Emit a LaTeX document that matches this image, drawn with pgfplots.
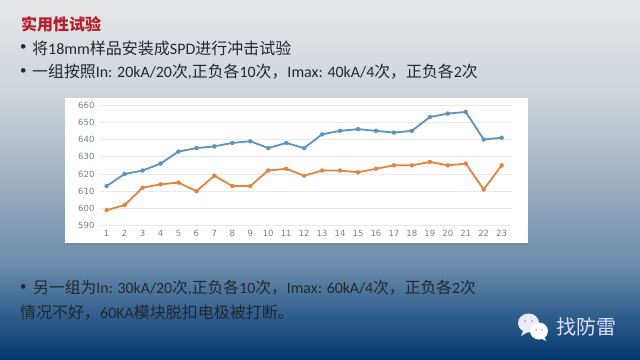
\documentclass[border=0pt]{standalone}
\usepackage{fontspec}
\setmainfont{Carlito}
\newfontfamily\cjk{Noto Sans CJK SC}
\newfontfamily\tickf{DejaVu Sans}
\usepackage{pgfplots}
\pgfplotsset{compat=1.18}
\newcommand{\zh}[1]{{\cjk #1}}
\definecolor{txt}{HTML}{23272D}
\definecolor{titlered}{HTML}{B81C2C}
\definecolor{blueline}{HTML}{5F92BC}
\definecolor{orangeline}{HTML}{E2833F}
\definecolor{gridc}{HTML}{E8E9EA}
\definecolor{tickc}{HTML}{7A7F85}
\pgfdeclareverticalshading{slidebg}{100bp}{
 rgb(0bp)=(0.012,0.220,0.435);
 rgb(25bp)=(0.012,0.220,0.435);
 rgb(30.4bp)=(0.165,0.353,0.540);
 rgb(38.1bp)=(0.420,0.550,0.670);
 rgb(50bp)=(0.620,0.690,0.760);
 rgb(61.8bp)=(0.810,0.830,0.850);
 rgb(69.4bp)=(0.860,0.870,0.880);
 rgb(75bp)=(0.905,0.905,0.910);
 rgb(100bp)=(0.905,0.905,0.910)}
\begin{document}
\begin{tikzpicture}[x=1pt,y=1pt]
\path[use as bounding box] (0,0) rectangle (640,359);
\path[shading=slidebg] (0,0) rectangle (640,359);
% panel
\fill[white] (65,116) rectangle (528,261);
\fill[black!55,opacity=.4] (65,114) rectangle (528,116);
% text
\node[anchor=west,text=titlered,font=\fontsize{16}{16}\selectfont\bfseries,inner sep=0] at (21,335) {\zh{实用性试验}};
\node[anchor=west,text=txt,font=\fontsize{13}{13}\selectfont,inner sep=0] at (20,311) {•};
\node[anchor=west,text=txt,font=\fontsize{16}{16}\selectfont,inner sep=0] at (32,311) {\zh{将}18mm\zh{样品安装成}SPD\zh{进行冲击试验}};
\node[anchor=west,text=txt,font=\fontsize{13}{13}\selectfont,inner sep=0] at (20,287) {•};
\node[anchor=west,text=txt,font=\fontsize{15.9}{16}\selectfont,inner sep=0] at (32,287) {\zh{一组按照}In: 20kA/20\zh{次},\zh{正负各}10\zh{次，}Imax: 40kA/4\zh{次，正负各}2\zh{次}};
\node[anchor=west,text=txt,font=\fontsize{13}{13}\selectfont,inner sep=0] at (20,71) {•};
\node[anchor=west,text=txt,font=\fontsize{15.8}{16}\selectfont,inner sep=0] at (33,71) {\zh{另一组为}In: 30kA/20\zh{次},\zh{正负各}10\zh{次，}Imax: 60kA/4\zh{次，正负各}2\zh{次}};
\node[anchor=west,text=txt,font=\fontsize{16}{16}\selectfont,inner sep=0] at (20,46) {\zh{情况不好，}60KA\zh{模块脱扣电极被打断。}};
% logo
\fill[white!92!blue] (528.5,36) ellipse (10.5 and 9.5);
\fill[white!92!blue] (523,28) -- (521,23) -- (528,27) -- cycle;
\fill[white] (539,28) ellipse (9 and 8.5);
\fill[white] (545,21) -- (546,18) -- (541,20.5) -- cycle;
\fill[gray!60] (525,38) circle (1.2) (532,38) circle (1.2) (536,29) circle (1) (542,29) circle (1);
\node[anchor=west,text=white!88!blue,font=\fontsize{20}{20}\selectfont\cjk,inner sep=0] at (556,32) {找防雷};
\begin{axis}[
  at={(100pt,133.3pt)},anchor=south west,
  scale only axis,width=411.7pt,height=120.7pt,
  xmin=0.63,xmax=23.56,ymin=590,ymax=660,
  xtick={1,...,23},ytick={590,600,...,660},
  axis line style={draw=none},
  major tick length=0pt,
  ymajorgrids,
  grid style={gridc,line width=.7pt},
  tick label style={font=\fontsize{8.5}{8.5}\selectfont\tickf,text=tickc},
  /pgf/number format/assume math mode=true,
  /pgf/number format/1000 sep={},
  yticklabel style={xshift=-2pt},
  xticklabel style={yshift=-1pt},
  clip=false,
  every axis plot/.append style={line width=1.8pt,mark=*,mark size=2pt,mark options={solid}},
]
\addplot[blueline,mark options={fill=blueline,draw=blueline,line width=.3pt}] coordinates {
(1,613)(2,620)(3,622)(4,626)(5,633)(6,635)(7,636)(8,638)(9,639)(10,635)(11,638)(12,635)
(13,643)(14,645)(15,646)(16,645)(17,644)(18,645)(19,653)(20,655)(21,656)(22,640)(23,641)};
\addplot[orangeline,mark options={fill=orangeline,draw=orangeline,line width=.3pt}] coordinates {
(1,599)(2,602)(3,612)(4,614)(5,615)(6,610)(7,619)(8,613)(9,613)(10,622)(11,623)(12,619)
(13,622)(14,622)(15,621)(16,623)(17,625)(18,625)(19,627)(20,625)(21,626)(22,611)(23,625)};
\end{axis}
\end{tikzpicture}
\end{document}
